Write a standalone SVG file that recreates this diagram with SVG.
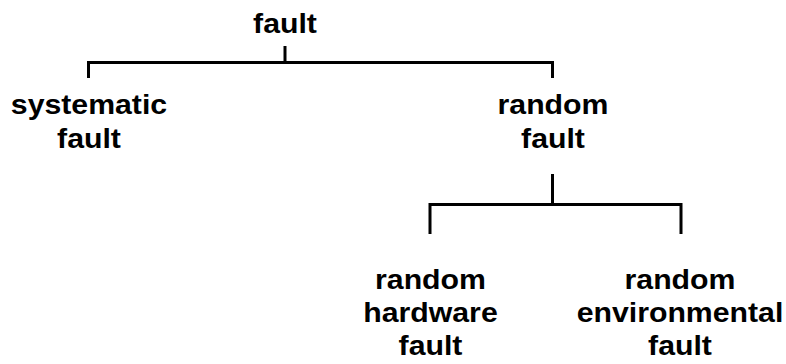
<svg xmlns="http://www.w3.org/2000/svg" width="786" height="364" viewBox="0 0 786 364">
<style>
.lbl{font-family:"Liberation Sans",Arial,sans-serif;font-weight:bold;font-size:27.5px;fill:#000;text-anchor:middle}
.con{fill:none;stroke:#000;stroke-width:3;stroke-linecap:butt;stroke-linejoin:miter}
</style>
<rect width="786" height="364" fill="#fff"/>
<g id="connectors" class="con">
<path d="M285,46 V62.5"/>
<path d="M88.5,78 V62.5 H552.5 V78"/>
<path d="M552.5,174 V204.5"/>
<path d="M430,234 V204.5 H681 V234"/>
</g>
<g id="fault" transform="translate(285,0) scale(1.1,1)">
<text class="lbl" x="0" y="33">fault</text>
</g>
<g id="systematic-fault" transform="translate(89,0) scale(1.1,1)">
<text class="lbl" x="0" y="114">systematic</text>
<text class="lbl" x="0" y="148">fault</text>
</g>
<g id="random-fault" transform="translate(553,0) scale(1.1,1)">
<text class="lbl" x="0" y="114">random</text>
<text class="lbl" x="0" y="148">fault</text>
</g>
<g id="random-hardware-fault" transform="translate(430.5,0) scale(1.1,1)">
<text class="lbl" x="0" y="289">random</text>
<text class="lbl" x="0" y="322">hardware</text>
<text class="lbl" x="0" y="355">fault</text>
</g>
<g id="random-environmental-fault" transform="translate(680,0) scale(1.1,1)">
<text class="lbl" x="0" y="289">random</text>
<text class="lbl" x="0" y="322">environmental</text>
<text class="lbl" x="0" y="355">fault</text>
</g>
</svg>
